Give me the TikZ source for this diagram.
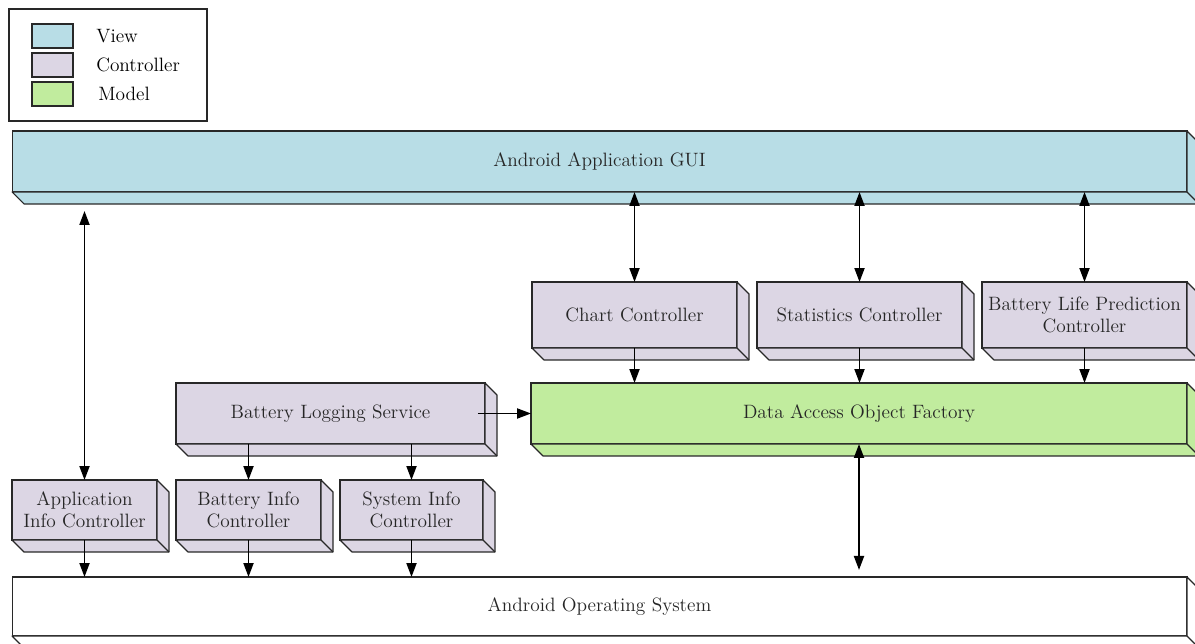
\documentclass[tikz,border=0pt]{standalone}
\usetikzlibrary{calc,arrows.meta,positioning}

\definecolor{viewblue}{RGB}{184,221,230}
\definecolor{ctrlpurple}{RGB}{220,214,228}
\definecolor{modelgreen}{RGB}{193,236,158}
\definecolor{edgegray}{RGB}{40,40,40}

\tikzset{
    brick/.style={draw=edgegray, line width=0.7pt, outer sep=0pt, align=center,
        font=\fontsize{11}{12.5}\selectfont, text=black!85},
    swatch/.style={draw=edgegray, line width=0.7pt, outer sep=0pt,
        minimum width=0.82cm, minimum height=0.48cm},
    legtext/.style={anchor=west, inner sep=0pt, font=\fontsize{11}{12.5}\selectfont},
    link/.style={line width=1.1pt, -{Triangle[length=2.8mm,width=2mm]}},
    dlink/.style={line width=1.1pt, {Triangle[length=2.8mm,width=2mm]}-{Triangle[length=2.8mm,width=2mm]}}
}

\begin{document}
\begin{tikzpicture}[x=0.02cm,y=-0.02cm]
    \useasboundingbox (0,0) rectangle (1195,644);

    % legend
    \node[draw=edgegray, line width=0.7pt, minimum width=3.96cm, minimum height=2.24cm] (legend) at (108,65) {};
    \node[swatch, fill=viewblue] (sview) at (52.5,36) {};
    \node[swatch, fill=ctrlpurple] (sctrl) at (52.5,65) {};
    \node[swatch, fill=modelgreen] (smodel) at (52.5,94) {};
    \node[legtext, right=0.46cm of sview] (lview) {View};
    \node[legtext, right=0.46cm of sctrl] (lctrl) {Controller};
    \node[legtext, right=0.5cm of smodel] (lmodel) {Model};

    % layers
    \node[brick, fill=viewblue, minimum width=23.5cm, minimum height=1.22cm] (gui) at (599.5,161.5) {Android Application GUI};
    \node[brick, fill=ctrlpurple, minimum width=4.1cm, minimum height=1.32cm] (chart) at (634.5,315) {Chart Controller};
    \node[brick, fill=ctrlpurple, minimum width=4.1cm, minimum height=1.32cm] (stats) at (859.5,315) {Statistics Controller};
    \node[brick, fill=ctrlpurple, minimum width=4.1cm, minimum height=1.32cm] (blp) at (1084.5,315) {Battery Life Prediction\\Controller};
    \node[brick, fill=ctrlpurple, minimum width=6.18cm, minimum height=1.22cm] (bls) at (330.5,413.5) {Battery Logging Service};
    \node[brick, fill=modelgreen, minimum width=13.12cm, minimum height=1.22cm] (dao) at (859,413.5) {Data Access Object Factory};
    \node[brick, fill=ctrlpurple, minimum width=2.9cm, minimum height=1.2cm] (appinfo) at (84.5,510) {Application\\Info Controller};
    \node[brick, fill=ctrlpurple, minimum width=2.9cm, minimum height=1.2cm] (batinfo) at (248.5,510) {Battery Info\\Controller};
    \node[brick, fill=ctrlpurple, minimum width=2.86cm, minimum height=1.2cm] (sysinfo) at (411.5,510) {System Info\\Controller};
    \node[brick, fill=white, minimum width=23.5cm, minimum height=1.18cm] (os) at (599.5,606.5) {Android Operating System};

    % depth faces
    \foreach \n/\c in {gui/viewblue, chart/ctrlpurple, stats/ctrlpurple, blp/ctrlpurple,
        bls/ctrlpurple, dao/modelgreen, appinfo/ctrlpurple, batinfo/ctrlpurple,
        sysinfo/ctrlpurple, os/white} {
        \filldraw[fill=\c, draw=edgegray, line width=0.7pt, line join=round]
            (\n.south west) -- ++(12,12) -- ($(\n.south east)+(12,12)$)
            -- ($(\n.north east)+(12,12)$) -- (\n.north east) -- (\n.south east) -- cycle;
        \draw[edgegray, line width=0.7pt] (\n.south east) -- ++(12,12);
    }

    % connectors
    \draw[dlink] (appinfo.north) -- ($(appinfo.north |- gui.south)+(0,19)$);
    \draw[dlink] (gui.south -| chart.north) -- (chart.north);
    \draw[dlink] (gui.south -| stats.north) -- (stats.north);
    \draw[dlink] (gui.south -| blp.north) -- (blp.north);
    \draw[link] (chart.south) -- (chart.south |- dao.north);
    \draw[link] (stats.south) -- (stats.south |- dao.north);
    \draw[link] (blp.south) -- (blp.south |- dao.north);
    \draw[link] ([xshift=-0.14cm]bls.east) -- (dao.west);
    \draw[link] (bls.south -| batinfo.north) -- (batinfo.north);
    \draw[link] (bls.south -| sysinfo.north) -- (sysinfo.north);
    \draw[link] (appinfo.south) -- (appinfo.south |- os.north);
    \draw[link] (batinfo.south) -- (batinfo.south |- os.north);
    \draw[link] (sysinfo.south) -- (sysinfo.south |- os.north);
    \draw[dlink, shorten >=4] (dao.south) -- (dao.south |- os.north);
\end{tikzpicture}
\end{document}
